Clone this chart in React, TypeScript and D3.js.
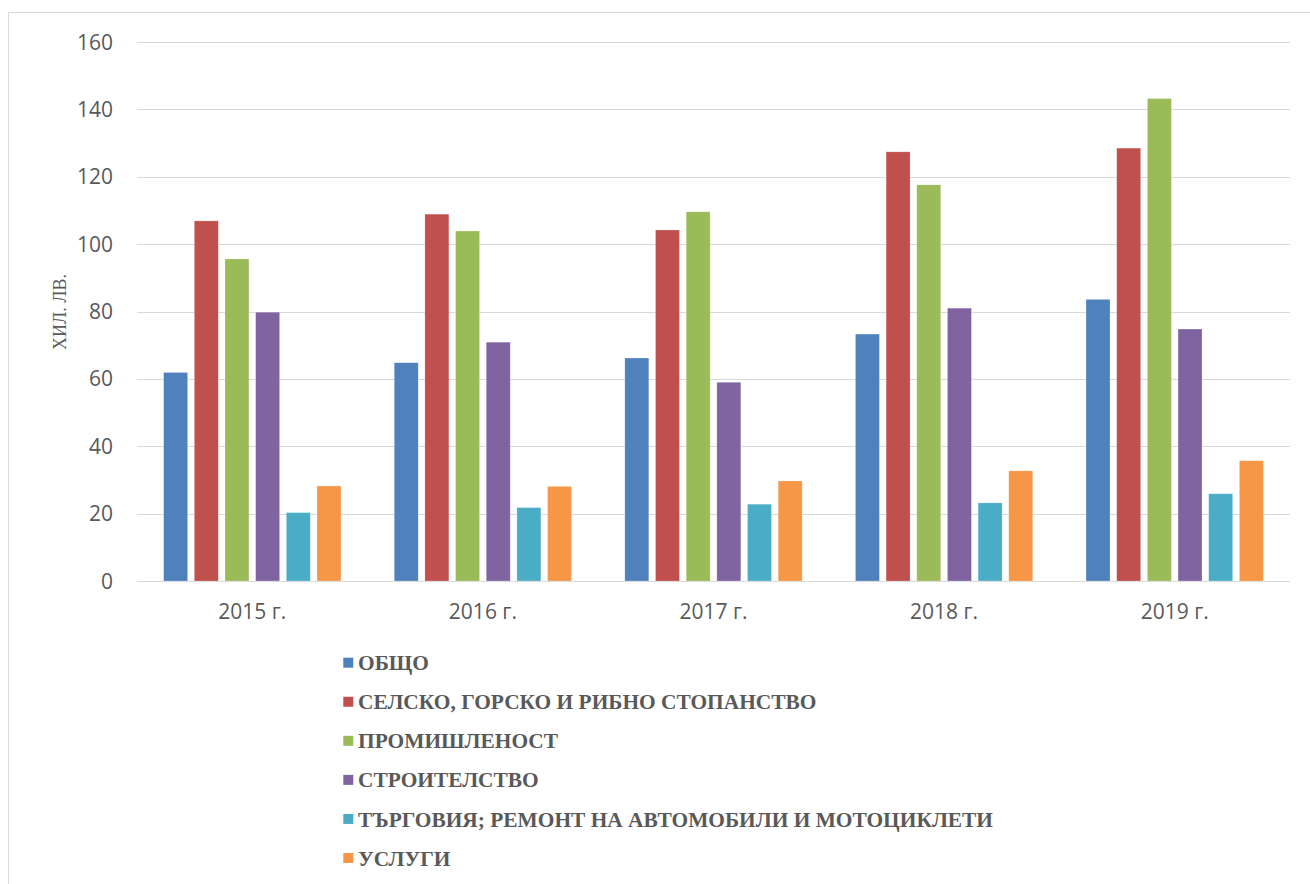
import * as d3 from "d3";

const years = ["2015 г.", "2016 г.", "2017 г.", "2018 г.", "2019 г."];
const seriesNames = [
  "ОБЩО",
  "СЕЛСКО, ГОРСКО И РИБНО СТОПАНСТВО",
  "ПРОМИШЛЕНОСТ",
  "СТРОИТЕЛСТВО",
  "ТЪРГОВИЯ; РЕМОНТ НА АВТОМОБИЛИ И МОТОЦИКЛЕТИ",
  "УСЛУГИ",
];
const obshto = [61.9, 64.8, 66.2, 73.3, 83.6];
const selsko = [106.9, 108.9, 104.2, 127.4, 128.5];
const promishlenost = [95.6, 103.9, 109.6, 117.6, 143.2];
const stroitelstvo = [79.8, 70.9, 59.0, 81.0, 74.8];
const targoviya = [20.3, 21.8, 22.8, 23.2, 25.9];
const uslugi = [28.2, 28.1, 29.7, 32.7, 35.7];
const yTicks = [0, 20, 40, 60, 80, 100, 120, 140, 160];
const colors = ["#4F81BD", "#C0504D", "#9BBB59", "#8064A2", "#4BACC6", "#F79646"];

const seriesValues = [obshto, selsko, promishlenost, stroitelstvo, targoviya, uslugi];

const width = 1310;
const height = 884;
const plot = { left: 137, right: 1290, top: 42, bottom: 581 };

export default function App() {
  const x0 = d3
    .scaleBand<string>()
    .domain(years)
    .range([plot.left, plot.right])
    .paddingInner(0.231)
    .paddingOuter(0.1155);
  const x1 = d3
    .scaleBand<string>()
    .domain(seriesNames)
    .range([0, x0.bandwidth()])
    .paddingInner(0.218)
    .paddingOuter(0);
  const y = d3.scaleLinear().domain([0, 160]).range([plot.bottom, plot.top]);

  const legendY = d3
    .scalePoint<string>()
    .domain(seriesNames)
    .range([662.7, 858]);

  const tickFont = "'Open Sans', 'Noto Sans', sans-serif";
  const serif = "'Liberation Serif', 'Times New Roman', serif";

  return (
    <svg
      width={width}
      height={height}
      style={{ position: "absolute", left: 0, top: 0, background: "#fff" }}
    >
      <rect x={8.5} y={12.5} width={1320} height={900} fill="#fff" stroke="#d9d9d9" strokeWidth={1} />

      {/* gridlines */}
      {yTicks.map((t) => (
        <line
          key={t}
          x1={plot.left}
          x2={plot.right}
          y1={Math.round(y(t)) + 0.5}
          y2={Math.round(y(t)) + 0.5}
          stroke="#d9d9d9"
          strokeWidth={1.2}
        />
      ))}

      {/* y tick labels */}
      {yTicks.map((t) => (
        <text
          key={t}
          x={113}
          y={y(t)}
          dy="0.36em"
          textAnchor="end"
          fontFamily={tickFont}
          fontSize={21}
          fill="#595959"
        >
          {t}
        </text>
      ))}

      {/* bars */}
      {years.map((yr, i) => (
        <g key={yr} transform={`translate(${x0(yr)},0)`}>
          {seriesNames.map((s, j) => (
            <rect
              key={s}
              x={x1(s)}
              y={y(seriesValues[j][i])}
              width={x1.bandwidth()}
              height={y(0) - y(seriesValues[j][i])}
              fill={colors[j]}
              stroke="#ffffff"
              strokeOpacity={0.4}
              strokeWidth={0.6}
            />
          ))}
        </g>
      ))}

      {/* x labels */}
      {years.map((yr) => (
        <text
          key={yr}
          x={x0(yr)! + x0.bandwidth() / 2}
          y={619}
          textAnchor="middle"
          fontFamily={tickFont}
          fontSize={21}
          fill="#595959"
        >
          {yr}
        </text>
      ))}

      {/* y axis title */}
      <text
        transform={`translate(66,312) rotate(-90)`}
        textAnchor="middle"
        fontFamily={serif}
        fontSize={18}
        fill="#595959"
      >
        ХИЛ. ЛВ.
      </text>

      {/* legend */}
      {seriesNames.map((s, j) => (
        <g key={s} transform={`translate(0,${legendY(s)})`}>
          <rect x={343.3} y={-5} width={10} height={10} fill={colors[j]} />
          <text
            x={358}
            y={7.6}
            fontFamily={serif}
            fontWeight="bold"
            fontSize={21.4}
            fill="#595959"
          >
            {s}
          </text>
        </g>
      ))}
    </svg>
  );
}
